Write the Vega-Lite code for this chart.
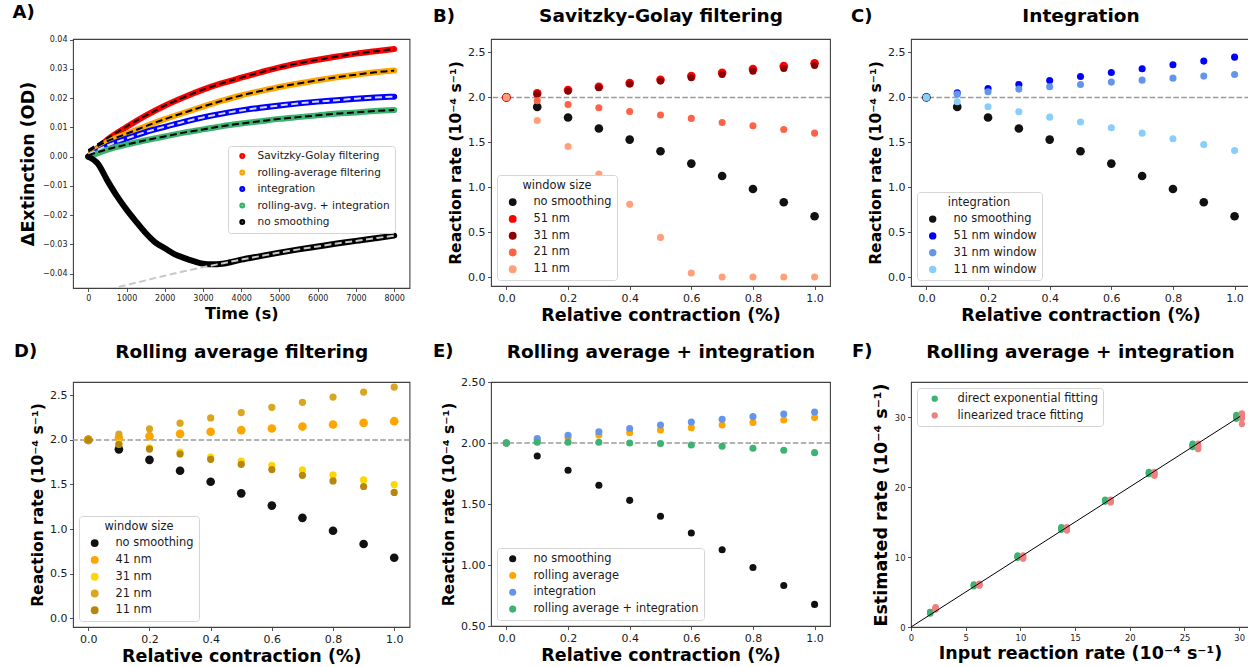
{
"$schema": "https://vega.github.io/schema/vega-lite/v6.json",
"background": "white",
"padding": {"left": 11, "top": 3, "right": 0, "bottom": 0},
"config": {
 "font": "DejaVu Sans",
 "view": {"stroke": "#404040", "strokeWidth": 1.1},
 "axis": {"grid": false, "domain": false, "tickColor": "#404040", "tickSize": 3.5, "tickWidth": 0.9, "labelFont": "DejaVu Sans", "labelFontSize": 11, "labelColor": "#1a1a1a", "labelPadding": 2.5, "labelFlush": false, "labelOverlap": false, "titleFont": "DejaVu Sans", "titleFontSize": 17.5, "titleFontWeight": "bold", "titleColor": "#000"},
 "legend": {"labelFont": "DejaVu Sans", "labelFontSize": 11.4, "labelColor": "#1a1a1a", "labelLimit": 400, "titleFont": "DejaVu Sans", "titleFontSize": 11.4, "titleFontWeight": "normal", "titleColor": "#1a1a1a", "fillColor": "white", "strokeColor": "#d5d5d5", "cornerRadius": 3, "padding": 5, "symbolStrokeWidth": 0, "symbolType": "circle", "rowPadding": 3.8, "labelOffset": 15, "symbolOffset": 5},
 "title": {"font": "DejaVu Sans", "fontSize": 18, "fontWeight": "bold", "color": "#000", "anchor": "start", "frame": "group"}
},
"datasets": {
 "A": [
  {"s":"Savitzky-Golay filtering","t":0,"v":0,"f":0.0022},{"s":"Savitzky-Golay filtering","t":250,"v":0.003},{"s":"Savitzky-Golay filtering","t":500,"v":0.0058,"f":0.0063},{"s":"Savitzky-Golay filtering","t":1000,"v":0.0101,"f":0.0103},{"s":"Savitzky-Golay filtering","t":1500,"v":0.014,"f":0.014},{"s":"Savitzky-Golay filtering","t":2000,"v":0.0174,"f":0.0174},{"s":"Savitzky-Golay filtering","t":2500,"v":0.0203,"f":0.0203},{"s":"Savitzky-Golay filtering","t":3000,"v":0.0229,"f":0.0229},{"s":"Savitzky-Golay filtering","t":3500,"v":0.0251,"f":0.0251},{"s":"Savitzky-Golay filtering","t":4000,"v":0.027,"f":0.027},{"s":"Savitzky-Golay filtering","t":4500,"v":0.0288,"f":0.0288},{"s":"Savitzky-Golay filtering","t":5000,"v":0.0305,"f":0.0305},{"s":"Savitzky-Golay filtering","t":5500,"v":0.0319,"f":0.0319},{"s":"Savitzky-Golay filtering","t":6000,"v":0.0331,"f":0.0331},{"s":"Savitzky-Golay filtering","t":6500,"v":0.0342,"f":0.0342},{"s":"Savitzky-Golay filtering","t":7000,"v":0.0352,"f":0.0352},{"s":"Savitzky-Golay filtering","t":7500,"v":0.036,"f":0.036},{"s":"Savitzky-Golay filtering","t":8000,"v":0.0368,"f":0.0368},
  {"s":"rolling-average filtering","t":0,"v":0,"f":0.0018},{"s":"rolling-average filtering","t":250,"v":0.0027},{"s":"rolling-average filtering","t":500,"v":0.005,"f":0.0053},{"s":"rolling-average filtering","t":1000,"v":0.0078,"f":0.0078},{"s":"rolling-average filtering","t":1500,"v":0.0104,"f":0.0104},{"s":"rolling-average filtering","t":2000,"v":0.0128,"f":0.0128},{"s":"rolling-average filtering","t":2500,"v":0.015,"f":0.015},{"s":"rolling-average filtering","t":3000,"v":0.0171,"f":0.0171},{"s":"rolling-average filtering","t":3500,"v":0.0191,"f":0.0191},{"s":"rolling-average filtering","t":4000,"v":0.0209,"f":0.0209},{"s":"rolling-average filtering","t":4500,"v":0.0224,"f":0.0224},{"s":"rolling-average filtering","t":5000,"v":0.0238,"f":0.0238},{"s":"rolling-average filtering","t":5500,"v":0.025,"f":0.025},{"s":"rolling-average filtering","t":6000,"v":0.0261,"f":0.0261},{"s":"rolling-average filtering","t":6500,"v":0.0271,"f":0.0271},{"s":"rolling-average filtering","t":7000,"v":0.028,"f":0.028},{"s":"rolling-average filtering","t":7500,"v":0.0288,"f":0.0288},{"s":"rolling-average filtering","t":8000,"v":0.0294,"f":0.0294},
  {"s":"integration","t":0,"v":0,"f":0.0008},{"s":"integration","t":250,"v":0.0018},{"s":"integration","t":500,"v":0.0036,"f":0.0038},{"s":"integration","t":1000,"v":0.0062,"f":0.0062},{"s":"integration","t":1500,"v":0.0084,"f":0.0084},{"s":"integration","t":2000,"v":0.0102,"f":0.0102},{"s":"integration","t":2500,"v":0.0119,"f":0.0119},{"s":"integration","t":3000,"v":0.0134,"f":0.0134},{"s":"integration","t":3500,"v":0.0147,"f":0.0147},{"s":"integration","t":4000,"v":0.0158,"f":0.0158},{"s":"integration","t":4500,"v":0.0167,"f":0.0167},{"s":"integration","t":5000,"v":0.0175,"f":0.0175},{"s":"integration","t":5500,"v":0.0182,"f":0.0182},{"s":"integration","t":6000,"v":0.0188,"f":0.0188},{"s":"integration","t":6500,"v":0.0193,"f":0.0193},{"s":"integration","t":7000,"v":0.0198,"f":0.0198},{"s":"integration","t":7500,"v":0.0202,"f":0.0202},{"s":"integration","t":8000,"v":0.0205,"f":0.0205},
  {"s":"rolling-avg. + integration","t":0,"v":0,"f":0.0005},{"s":"rolling-avg. + integration","t":250,"v":0.0012},{"s":"rolling-avg. + integration","t":500,"v":0.0024,"f":0.0025},{"s":"rolling-avg. + integration","t":1000,"v":0.0041,"f":0.0041},{"s":"rolling-avg. + integration","t":1500,"v":0.0056,"f":0.0056},{"s":"rolling-avg. + integration","t":2000,"v":0.0069,"f":0.0069},{"s":"rolling-avg. + integration","t":2500,"v":0.0082,"f":0.0082},{"s":"rolling-avg. + integration","t":3000,"v":0.0093,"f":0.0093},{"s":"rolling-avg. + integration","t":3500,"v":0.0104,"f":0.0104},{"s":"rolling-avg. + integration","t":4000,"v":0.0113,"f":0.0113},{"s":"rolling-avg. + integration","t":4500,"v":0.0121,"f":0.0121},{"s":"rolling-avg. + integration","t":5000,"v":0.0129,"f":0.0129},{"s":"rolling-avg. + integration","t":5500,"v":0.0135,"f":0.0135},{"s":"rolling-avg. + integration","t":6000,"v":0.0141,"f":0.0141},{"s":"rolling-avg. + integration","t":6500,"v":0.0147,"f":0.0147},{"s":"rolling-avg. + integration","t":7000,"v":0.0151,"f":0.0151},{"s":"rolling-avg. + integration","t":7500,"v":0.0156,"f":0.0156},{"s":"rolling-avg. + integration","t":8000,"v":0.0159,"f":0.0159},
  {"s":"no smoothing","t":0,"v":0,"f":-0.0474},{"s":"no smoothing","t":250,"v":-0.0024},{"s":"no smoothing","t":500,"v":-0.0082,"f":-0.0456},{"s":"no smoothing","t":750,"v":-0.0135},{"s":"no smoothing","t":1000,"v":-0.0181,"f":-0.0439},{"s":"no smoothing","t":1250,"v":-0.0222},{"s":"no smoothing","t":1500,"v":-0.0261,"f":-0.0423},{"s":"no smoothing","t":1750,"v":-0.0293},{"s":"no smoothing","t":2000,"v":-0.0313,"f":-0.0407},{"s":"no smoothing","t":2250,"v":-0.0333},{"s":"no smoothing","t":2500,"v":-0.0346,"f":-0.0392},{"s":"no smoothing","t":2750,"v":-0.0357},{"s":"no smoothing","t":3000,"v":-0.0366,"f":-0.0378},{"s":"no smoothing","t":3250,"v":-0.0368},{"s":"no smoothing","t":3500,"v":-0.0366,"f":-0.0365},{"s":"no smoothing","t":4000,"v":-0.0352,"f":-0.0352},{"s":"no smoothing","t":4500,"v":-0.034,"f":-0.034},{"s":"no smoothing","t":5000,"v":-0.0328,"f":-0.0328},{"s":"no smoothing","t":5500,"v":-0.0317,"f":-0.0317},{"s":"no smoothing","t":6000,"v":-0.0307,"f":-0.0307},{"s":"no smoothing","t":6500,"v":-0.0297,"f":-0.0297},{"s":"no smoothing","t":7000,"v":-0.0288,"f":-0.0288},{"s":"no smoothing","t":7500,"v":-0.0279,"f":-0.0279},{"s":"no smoothing","t":8000,"v":-0.027,"f":-0.027}
 ],
 "B": [
  {"s":"no smoothing","x":0,"y":2},{"s":"no smoothing","x":0.1,"y":1.894},{"s":"no smoothing","x":0.2,"y":1.776},{"s":"no smoothing","x":0.3,"y":1.654},{"s":"no smoothing","x":0.4,"y":1.53},{"s":"no smoothing","x":0.5,"y":1.4},{"s":"no smoothing","x":0.6,"y":1.263},{"s":"no smoothing","x":0.7,"y":1.125},{"s":"no smoothing","x":0.8,"y":0.98},{"s":"no smoothing","x":0.9,"y":0.832},{"s":"no smoothing","x":1,"y":0.677},
  {"s":"51 nm","x":0,"y":2},{"s":"51 nm","x":0.1,"y":2.044},{"s":"51 nm","x":0.2,"y":2.081},{"s":"51 nm","x":0.3,"y":2.118},{"s":"51 nm","x":0.4,"y":2.159},{"s":"51 nm","x":0.5,"y":2.196},{"s":"51 nm","x":0.6,"y":2.237},{"s":"51 nm","x":0.7,"y":2.274},{"s":"51 nm","x":0.8,"y":2.315},{"s":"51 nm","x":0.9,"y":2.348},{"s":"51 nm","x":1,"y":2.38},
  {"s":"31 nm","x":0,"y":2},{"s":"31 nm","x":0.1,"y":2.036},{"s":"31 nm","x":0.2,"y":2.07},{"s":"31 nm","x":0.3,"y":2.107},{"s":"31 nm","x":0.4,"y":2.148},{"s":"31 nm","x":0.5,"y":2.181},{"s":"31 nm","x":0.6,"y":2.218},{"s":"31 nm","x":0.7,"y":2.255},{"s":"31 nm","x":0.8,"y":2.292},{"s":"31 nm","x":0.9,"y":2.322},{"s":"31 nm","x":1,"y":2.355},
  {"s":"21 nm","x":0,"y":2},{"s":"21 nm","x":0.1,"y":1.962},{"s":"21 nm","x":0.2,"y":1.921},{"s":"21 nm","x":0.3,"y":1.884},{"s":"21 nm","x":0.4,"y":1.843},{"s":"21 nm","x":0.5,"y":1.803},{"s":"21 nm","x":0.6,"y":1.766},{"s":"21 nm","x":0.7,"y":1.721},{"s":"21 nm","x":0.8,"y":1.684},{"s":"21 nm","x":0.9,"y":1.643},{"s":"21 nm","x":1,"y":1.602},
  {"s":"11 nm","x":0,"y":2},{"s":"11 nm","x":0.1,"y":1.743},{"s":"11 nm","x":0.2,"y":1.454},{"s":"11 nm","x":0.3,"y":1.146},{"s":"11 nm","x":0.4,"y":0.809},{"s":"11 nm","x":0.5,"y":0.441},{"s":"11 nm","x":0.6,"y":0.045},{"s":"11 nm","x":0.7,"y":0},{"s":"11 nm","x":0.8,"y":0},{"s":"11 nm","x":0.9,"y":0},{"s":"11 nm","x":1,"y":0}
 ],
 "C": [
  {"s":"no smoothing","x":0,"y":2},{"s":"no smoothing","x":0.1,"y":1.894},{"s":"no smoothing","x":0.2,"y":1.776},{"s":"no smoothing","x":0.3,"y":1.654},{"s":"no smoothing","x":0.4,"y":1.53},{"s":"no smoothing","x":0.5,"y":1.4},{"s":"no smoothing","x":0.6,"y":1.263},{"s":"no smoothing","x":0.7,"y":1.125},{"s":"no smoothing","x":0.8,"y":0.98},{"s":"no smoothing","x":0.9,"y":0.832},{"s":"no smoothing","x":1,"y":0.677},
  {"s":"51 nm window","x":0,"y":2},{"s":"51 nm window","x":0.1,"y":2.051},{"s":"51 nm window","x":0.2,"y":2.099},{"s":"51 nm window","x":0.3,"y":2.144},{"s":"51 nm window","x":0.4,"y":2.188},{"s":"51 nm window","x":0.5,"y":2.233},{"s":"51 nm window","x":0.6,"y":2.277},{"s":"51 nm window","x":0.7,"y":2.318},{"s":"51 nm window","x":0.8,"y":2.363},{"s":"51 nm window","x":0.9,"y":2.404},{"s":"51 nm window","x":1,"y":2.448},
  {"s":"31 nm window","x":0,"y":2},{"s":"31 nm window","x":0.1,"y":2.036},{"s":"31 nm window","x":0.2,"y":2.062},{"s":"31 nm window","x":0.3,"y":2.092},{"s":"31 nm window","x":0.4,"y":2.118},{"s":"31 nm window","x":0.5,"y":2.144},{"s":"31 nm window","x":0.6,"y":2.17},{"s":"31 nm window","x":0.7,"y":2.192},{"s":"31 nm window","x":0.8,"y":2.214},{"s":"31 nm window","x":0.9,"y":2.237},{"s":"31 nm window","x":1,"y":2.255},
  {"s":"11 nm window","x":0,"y":2},{"s":"11 nm window","x":0.1,"y":1.951},{"s":"11 nm window","x":0.2,"y":1.895},{"s":"11 nm window","x":0.3,"y":1.84},{"s":"11 nm window","x":0.4,"y":1.78},{"s":"11 nm window","x":0.5,"y":1.725},{"s":"11 nm window","x":0.6,"y":1.662},{"s":"11 nm window","x":0.7,"y":1.602},{"s":"11 nm window","x":0.8,"y":1.539},{"s":"11 nm window","x":0.9,"y":1.476},{"s":"11 nm window","x":1,"y":1.409}
 ],
 "D": [
  {"s":"no smoothing","x":0,"y":2},{"s":"no smoothing","x":0.1,"y":1.894},{"s":"no smoothing","x":0.2,"y":1.776},{"s":"no smoothing","x":0.3,"y":1.654},{"s":"no smoothing","x":0.4,"y":1.53},{"s":"no smoothing","x":0.5,"y":1.4},{"s":"no smoothing","x":0.6,"y":1.263},{"s":"no smoothing","x":0.7,"y":1.125},{"s":"no smoothing","x":0.8,"y":0.98},{"s":"no smoothing","x":0.9,"y":0.832},{"s":"no smoothing","x":1,"y":0.677},
  {"s":"41 nm","x":0,"y":2},{"s":"41 nm","x":0.1,"y":2.024},{"s":"41 nm","x":0.2,"y":2.042},{"s":"41 nm","x":0.3,"y":2.068},{"s":"41 nm","x":0.4,"y":2.091},{"s":"41 nm","x":0.5,"y":2.109},{"s":"41 nm","x":0.6,"y":2.128},{"s":"41 nm","x":0.7,"y":2.15},{"s":"41 nm","x":0.8,"y":2.173},{"s":"41 nm","x":0.9,"y":2.191},{"s":"41 nm","x":1,"y":2.21},
  {"s":"31 nm","x":0,"y":2},{"s":"31 nm","x":0.1,"y":1.96},{"s":"31 nm","x":0.2,"y":1.91},{"s":"31 nm","x":0.3,"y":1.864},{"s":"31 nm","x":0.4,"y":1.808},{"s":"31 nm","x":0.5,"y":1.763},{"s":"31 nm","x":0.6,"y":1.715},{"s":"31 nm","x":0.7,"y":1.663},{"s":"31 nm","x":0.8,"y":1.607},{"s":"31 nm","x":0.9,"y":1.551},{"s":"31 nm","x":1,"y":1.499},
  {"s":"21 nm","x":0,"y":2},{"s":"21 nm","x":0.1,"y":2.065},{"s":"21 nm","x":0.2,"y":2.124},{"s":"21 nm","x":0.3,"y":2.188},{"s":"21 nm","x":0.4,"y":2.247},{"s":"21 nm","x":0.5,"y":2.307},{"s":"21 nm","x":0.6,"y":2.366},{"s":"21 nm","x":0.7,"y":2.422},{"s":"21 nm","x":0.8,"y":2.481},{"s":"21 nm","x":0.9,"y":2.537},{"s":"21 nm","x":1,"y":2.593},
  {"s":"11 nm","x":0,"y":2},{"s":"11 nm","x":0.1,"y":1.949},{"s":"11 nm","x":0.2,"y":1.897},{"s":"11 nm","x":0.3,"y":1.842},{"s":"11 nm","x":0.4,"y":1.782},{"s":"11 nm","x":0.5,"y":1.726},{"s":"11 nm","x":0.6,"y":1.667},{"s":"11 nm","x":0.7,"y":1.603},{"s":"11 nm","x":0.8,"y":1.54},{"s":"11 nm","x":0.9,"y":1.477},{"s":"11 nm","x":1,"y":1.41}
 ],
 "E": [
  {"s":"no smoothing","x":0,"y":2},{"s":"no smoothing","x":0.1,"y":1.894},{"s":"no smoothing","x":0.2,"y":1.776},{"s":"no smoothing","x":0.3,"y":1.654},{"s":"no smoothing","x":0.4,"y":1.53},{"s":"no smoothing","x":0.5,"y":1.4},{"s":"no smoothing","x":0.6,"y":1.263},{"s":"no smoothing","x":0.7,"y":1.125},{"s":"no smoothing","x":0.8,"y":0.98},{"s":"no smoothing","x":0.9,"y":0.832},{"s":"no smoothing","x":1,"y":0.677},
  {"s":"rolling average","x":0,"y":2},{"s":"rolling average","x":0.1,"y":2.024},{"s":"rolling average","x":0.2,"y":2.044},{"s":"rolling average","x":0.3,"y":2.066},{"s":"rolling average","x":0.4,"y":2.085},{"s":"rolling average","x":0.5,"y":2.107},{"s":"rolling average","x":0.6,"y":2.126},{"s":"rolling average","x":0.7,"y":2.148},{"s":"rolling average","x":0.8,"y":2.168},{"s":"rolling average","x":0.9,"y":2.188},{"s":"rolling average","x":1,"y":2.208},
  {"s":"integration","x":0,"y":2},{"s":"integration","x":0.1,"y":2.037},{"s":"integration","x":0.2,"y":2.064},{"s":"integration","x":0.3,"y":2.092},{"s":"integration","x":0.4,"y":2.119},{"s":"integration","x":0.5,"y":2.147},{"s":"integration","x":0.6,"y":2.172},{"s":"integration","x":0.7,"y":2.194},{"s":"integration","x":0.8,"y":2.216},{"s":"integration","x":0.9,"y":2.238},{"s":"integration","x":1,"y":2.254},
  {"s":"rolling average + integration","x":0,"y":2},{"s":"rolling average + integration","x":0.1,"y":2.006},{"s":"rolling average + integration","x":0.2,"y":2.006},{"s":"rolling average + integration","x":0.3,"y":2.006},{"s":"rolling average + integration","x":0.4,"y":2},{"s":"rolling average + integration","x":0.5,"y":1.995},{"s":"rolling average + integration","x":0.6,"y":1.984},{"s":"rolling average + integration","x":0.7,"y":1.973},{"s":"rolling average + integration","x":0.8,"y":1.957},{"s":"rolling average + integration","x":0.9,"y":1.94},{"s":"rolling average + integration","x":1,"y":1.921}
 ],
 "F": [
  {"m":"direct exponential fitting","x":1.75,"y":2.15},{"m":"direct exponential fitting","x":1.75,"y":2.08},{"m":"direct exponential fitting","x":1.75,"y":2.02},{"m":"direct exponential fitting","x":1.75,"y":1.97},{"m":"direct exponential fitting","x":1.75,"y":1.92},
  {"m":"direct exponential fitting","x":5.75,"y":6.08},{"m":"direct exponential fitting","x":5.75,"y":6.0},{"m":"direct exponential fitting","x":5.75,"y":5.95},{"m":"direct exponential fitting","x":5.75,"y":5.88},{"m":"direct exponential fitting","x":5.75,"y":5.82},
  {"m":"direct exponential fitting","x":9.75,"y":10.24},{"m":"direct exponential fitting","x":9.75,"y":10.12},{"m":"direct exponential fitting","x":9.75,"y":10.03},{"m":"direct exponential fitting","x":9.75,"y":9.95},{"m":"direct exponential fitting","x":9.75,"y":9.88},
  {"m":"direct exponential fitting","x":13.75,"y":14.25},{"m":"direct exponential fitting","x":13.75,"y":14.12},{"m":"direct exponential fitting","x":13.75,"y":14.02},{"m":"direct exponential fitting","x":13.75,"y":13.95},{"m":"direct exponential fitting","x":13.75,"y":13.88},
  {"m":"direct exponential fitting","x":17.75,"y":18.18},{"m":"direct exponential fitting","x":17.75,"y":18.1},{"m":"direct exponential fitting","x":17.75,"y":18.02},{"m":"direct exponential fitting","x":17.75,"y":17.97},{"m":"direct exponential fitting","x":17.75,"y":17.93},
  {"m":"direct exponential fitting","x":21.75,"y":22.15},{"m":"direct exponential fitting","x":21.75,"y":22.08},{"m":"direct exponential fitting","x":21.75,"y":22.0},{"m":"direct exponential fitting","x":21.75,"y":21.93},{"m":"direct exponential fitting","x":21.75,"y":21.86},
  {"m":"direct exponential fitting","x":25.75,"y":26.2},{"m":"direct exponential fitting","x":25.75,"y":26.05},{"m":"direct exponential fitting","x":25.75,"y":25.95},{"m":"direct exponential fitting","x":25.75,"y":25.82},{"m":"direct exponential fitting","x":25.75,"y":25.7},
  {"m":"direct exponential fitting","x":29.75,"y":30.3},{"m":"direct exponential fitting","x":29.75,"y":30.15},{"m":"direct exponential fitting","x":29.75,"y":30.0},{"m":"direct exponential fitting","x":29.75,"y":29.88},{"m":"direct exponential fitting","x":29.75,"y":29.75},
  {"m":"linearized trace fitting","x":2.25,"y":2.85},{"m":"linearized trace fitting","x":2.25,"y":2.75},{"m":"linearized trace fitting","x":2.25,"y":2.65},{"m":"linearized trace fitting","x":2.25,"y":2.57},{"m":"linearized trace fitting","x":2.25,"y":2.5},
  {"m":"linearized trace fitting","x":6.25,"y":6.2},{"m":"linearized trace fitting","x":6.25,"y":6.12},{"m":"linearized trace fitting","x":6.25,"y":6.05},{"m":"linearized trace fitting","x":6.25,"y":5.98},{"m":"linearized trace fitting","x":6.25,"y":5.9},
  {"m":"linearized trace fitting","x":10.25,"y":10.24},{"m":"linearized trace fitting","x":10.25,"y":10.1},{"m":"linearized trace fitting","x":10.25,"y":10.0},{"m":"linearized trace fitting","x":10.25,"y":9.9},{"m":"linearized trace fitting","x":10.25,"y":9.76},
  {"m":"linearized trace fitting","x":14.25,"y":14.26},{"m":"linearized trace fitting","x":14.25,"y":14.1},{"m":"linearized trace fitting","x":14.25,"y":14.0},{"m":"linearized trace fitting","x":14.25,"y":13.9},{"m":"linearized trace fitting","x":14.25,"y":13.78},
  {"m":"linearized trace fitting","x":18.25,"y":18.18},{"m":"linearized trace fitting","x":18.25,"y":18.05},{"m":"linearized trace fitting","x":18.25,"y":17.95},{"m":"linearized trace fitting","x":18.25,"y":17.88},{"m":"linearized trace fitting","x":18.25,"y":17.8},
  {"m":"linearized trace fitting","x":22.25,"y":22.15},{"m":"linearized trace fitting","x":22.25,"y":22.0},{"m":"linearized trace fitting","x":22.25,"y":21.88},{"m":"linearized trace fitting","x":22.25,"y":21.75},{"m":"linearized trace fitting","x":22.25,"y":21.6},
  {"m":"linearized trace fitting","x":26.25,"y":26.2},{"m":"linearized trace fitting","x":26.25,"y":26.0},{"m":"linearized trace fitting","x":26.25,"y":25.8},{"m":"linearized trace fitting","x":26.25,"y":25.6},{"m":"linearized trace fitting","x":26.25,"y":25.4},
  {"m":"linearized trace fitting","x":30.25,"y":30.5},{"m":"linearized trace fitting","x":30.25,"y":30.3},{"m":"linearized trace fitting","x":30.25,"y":30.05},{"m":"linearized trace fitting","x":30.25,"y":29.8},{"m":"linearized trace fitting","x":30.25,"y":29.0}
 ],
 "Fline": [{"x":0,"y":0},{"x":30.1,"y":30.1}]
},
"concat": [
  {
   "width": 336.5, "height": 249,
   "title": {"text": "A)", "dx": -60.5, "offset": 13.5},
   "data": {"name": "A"},
   "encoding": {
    "x": {"field": "t", "type": "quantitative", "scale": {"domain": [-400, 8400], "nice": false, "zero": false}, "axis": {"values": [0,1000,2000,3000,4000,5000,6000,7000,8000], "format": "d", "labelFontSize": 8, "title": "Time (s)", "titleFontSize": 16, "titlePadding": 3}}
   },
   "layer": [
    {"mark": {"type": "line", "strokeWidth": 6, "interpolate": "monotone", "strokeCap": "round"},
     "encoding": {
      "y": {"field": "v", "type": "quantitative", "scale": {"domain": [-0.0449, 0.0402], "nice": false, "zero": false}, "axis": {"values": [-0.04,-0.03,-0.02,-0.01,0,0.01,0.02,0.03,0.04], "format": ".2f", "labelFontSize": 8, "title": "ΔExtinction (OD)", "titlePadding": 5}},
      "color": {"field": "s", "type": "nominal", "scale": {"domain": ["Savitzky-Golay filtering","rolling-average filtering","integration","rolling-avg. + integration","no smoothing"], "range": ["#ff0000","#ffa500","#0000ff","#3cb371","#000000"]},
       "legend": {"title": null, "orient": "none", "legendX": 155, "legendY": 107, "symbolType": "circle", "symbolSize": 6, "symbolStrokeWidth": 3.5, "labelFontSize": 10.5, "labelOffset": 10, "clipHeight": 10, "rowPadding": 5.5, "symbolOffset": 4, "padding": 5}}
     }},
    {"transform": [{"filter": "isValid(datum.f)"}],
     "mark": {"type": "line", "strokeWidth": 2, "strokeDash": [7, 3.5], "interpolate": "monotone", "clip": true},
     "encoding": {
      "y": {"field": "f", "type": "quantitative", "axis": {"values": [-0.04,-0.03,-0.02,-0.01,0,0.01,0.02,0.03,0.04], "format": ".2f", "labelFontSize": 8, "title": "ΔExtinction (OD)", "titlePadding": 5}},
      "color": {"field": "s", "type": "nominal", "scale": {"domain": ["Savitzky-Golay filtering","rolling-average filtering","integration","rolling-avg. + integration","no smoothing"], "range": ["#000000","#000000","#d8d8e8","#000000","#c8c8c8"]}, "legend": null}
     }}
   ],
   "resolve": {"scale": {"color": "independent"}}
  },
  {
   "width": 339, "height": 247,
   "title": {"text": "B)", "dx": -58, "dy": 19, "offset": 0},
   "layer": [
    {"data": {"values": [{}]}, "mark": {"type": "rule", "color": "#9a9a9a", "strokeDash": [5.5, 2.4], "strokeWidth": 1.5}, "encoding": {"y": {"datum": 2, "type": "quantitative"}}},
    {"data": {"name": "B"}, "transform": [{"filter": {"field": "s", "oneOf": ["no smoothing", "51 nm"]}}],
     "mark": {"type": "circle", "opacity": 1, "size": 75},
     "encoding": {
      "x": {"field": "x", "type": "quantitative", "scale": {"domain": [-0.05, 1.05], "nice": false, "zero": false}, "axis": {"values": [0,0.2,0.4,0.6,0.8,1], "format": ".1f", "title": "Relative contraction (%)", "titlePadding": 3}},
      "y": {"field": "y", "type": "quantitative", "scale": {"domain": [-0.1, 2.65], "nice": false, "zero": false}, "axis": {"values": [0,0.5,1,1.5,2,2.5], "format": ".1f", "title": "Reaction rate (10⁻⁴ s⁻¹)", "titleFontSize": 15.5, "titlePadding": 4}},
      "color": {"field": "s", "type": "nominal", "scale": {"domain": ["no smoothing","51 nm","31 nm","21 nm","11 nm"], "range": ["#111111","#ff0000","#8b0000","#ff6347","#ffa07a"]}, "legend": {"title": "window size", "orient": "bottom-left", "offset": 6, "titleAnchor": "middle", "symbolSize": 62}}
     }},
    {"data": {"name": "B"}, "transform": [{"filter": {"field": "s", "oneOf": ["31 nm", "21 nm", "11 nm"]}}],
     "mark": {"type": "circle", "opacity": 1, "size": 50},
     "encoding": {
      "x": {"field": "x", "type": "quantitative", "axis": null},
      "y": {"field": "y", "type": "quantitative"},
      "color": {"field": "s", "type": "nominal", "legend": {"title": "window size", "orient": "bottom-left", "offset": 6, "titleAnchor": "middle", "symbolSize": 62}}
     }},
    {"data": {"values": [{}]}, "mark": {"type": "rule", "opacity": 0}, "encoding": {"x": {"datum": 0, "type": "quantitative", "axis": {"orient": "top", "title": "Savitzky-Golay filtering", "labels": false, "ticks": false, "domain": false, "titleFontSize": 18.5, "titlePadding": 13.5}}}}
   ],
   "resolve": {"axis": {"x": "independent"}}
  },
  {
   "width": 339, "height": 247,
   "title": {"text": "C)", "dx": -60, "dy": 19, "offset": 0},
   "layer": [
    {"data": {"values": [{}]}, "mark": {"type": "rule", "color": "#9a9a9a", "strokeDash": [5.5, 2.4], "strokeWidth": 1.5}, "encoding": {"y": {"datum": 2, "type": "quantitative"}}},
    {"data": {"name": "C"}, "transform": [{"filter": {"field": "s", "oneOf": ["no smoothing"]}}],
     "mark": {"type": "circle", "opacity": 1, "size": 75},
     "encoding": {
      "x": {"field": "x", "type": "quantitative", "scale": {"domain": [-0.05, 1.05], "nice": false, "zero": false}, "axis": {"values": [0,0.2,0.4,0.6,0.8,1], "format": ".1f", "title": "Relative contraction (%)", "titlePadding": 3}},
      "y": {"field": "y", "type": "quantitative", "scale": {"domain": [-0.1, 2.65], "nice": false, "zero": false}, "axis": {"values": [0,0.5,1,1.5,2,2.5], "format": ".1f", "title": "Reaction rate (10⁻⁴ s⁻¹)", "titleFontSize": 15.5, "titlePadding": 4}},
      "color": {"field": "s", "type": "nominal", "scale": {"domain": ["no smoothing","51 nm window","31 nm window","11 nm window"], "range": ["#111111","#0000ff","#6495ed","#87cefa"]}, "legend": {"title": "integration", "orient": "bottom-left", "offset": 6, "titleAnchor": "middle", "symbolSize": 55}}
     }},
    {"data": {"name": "C"}, "transform": [{"filter": {"field": "s", "oneOf": ["51 nm window", "31 nm window", "11 nm window"]}}],
     "mark": {"type": "circle", "opacity": 1, "size": 50},
     "encoding": {
      "x": {"field": "x", "type": "quantitative", "axis": null},
      "y": {"field": "y", "type": "quantitative"},
      "color": {"field": "s", "type": "nominal", "legend": {"title": "integration", "orient": "bottom-left", "offset": 6, "titleAnchor": "middle", "symbolSize": 55}}
     }},
    {"data": {"values": [{}]}, "mark": {"type": "rule", "opacity": 0}, "encoding": {"x": {"datum": 0, "type": "quantitative", "axis": {"orient": "top", "title": "Integration", "labels": false, "ticks": false, "domain": false, "titleFontSize": 18.5, "titlePadding": 13.5}}}}
   ],
   "resolve": {"axis": {"x": "independent"}}
  },
  {
   "width": 336.5, "height": 245,
   "title": {"text": "D)", "dx": -59, "dy": 19, "offset": 0},
   "layer": [
    {"data": {"values": [{}]}, "mark": {"type": "rule", "color": "#9a9a9a", "strokeDash": [5.5, 2.4], "strokeWidth": 1.5}, "encoding": {"y": {"datum": 2, "type": "quantitative"}}},
    {"data": {"name": "D"}, "transform": [{"filter": {"field": "s", "oneOf": ["no smoothing", "41 nm"]}}],
     "mark": {"type": "circle", "opacity": 1, "size": 75},
     "encoding": {
      "x": {"field": "x", "type": "quantitative", "scale": {"domain": [-0.05, 1.05], "nice": false, "zero": false}, "axis": {"values": [0,0.2,0.4,0.6,0.8,1], "format": ".1f", "title": "Relative contraction (%)", "titlePadding": 3}},
      "y": {"field": "y", "type": "quantitative", "scale": {"domain": [-0.1, 2.65], "nice": false, "zero": false}, "axis": {"values": [0,0.5,1,1.5,2,2.5], "format": ".1f", "title": "Reaction rate (10⁻⁴ s⁻¹)", "titleFontSize": 15.5, "titlePadding": 4}},
      "color": {"field": "s", "type": "nominal", "scale": {"domain": ["no smoothing","41 nm","31 nm","21 nm","11 nm"], "range": ["#111111","#ffa500","#ffd700","#daa520","#b8860b"]}, "legend": {"title": "window size", "orient": "bottom-left", "offset": 6, "titleAnchor": "middle", "symbolSize": 62}}
     }},
    {"data": {"name": "D"}, "transform": [{"filter": {"field": "s", "oneOf": ["31 nm", "21 nm", "11 nm"]}}],
     "mark": {"type": "circle", "opacity": 1, "size": 52},
     "encoding": {
      "x": {"field": "x", "type": "quantitative", "axis": null},
      "y": {"field": "y", "type": "quantitative"},
      "color": {"field": "s", "type": "nominal", "legend": {"title": "window size", "orient": "bottom-left", "offset": 6, "titleAnchor": "middle", "symbolSize": 62}}
     }},
    {"data": {"values": [{}]}, "mark": {"type": "rule", "opacity": 0}, "encoding": {"x": {"datum": 0, "type": "quantitative", "axis": {"orient": "top", "title": "Rolling average filtering", "labels": false, "ticks": false, "domain": false, "titleFontSize": 18.5, "titlePadding": 21}}}}
   ],
   "resolve": {"axis": {"x": "independent"}}
  },
  {
    "width": 339, "height": 244,
    "title": {"text": "E)", "dx": -58, "dy": 19, "offset": 0},
    "layer": [
     {"data": {"values": [{}]}, "mark": {"type": "rule", "color": "#9a9a9a", "strokeDash": [5.5, 2.4], "strokeWidth": 1.5}, "encoding": {"y": {"datum": 2, "type": "quantitative"}}},
     {"data": {"name": "E"},
      "mark": {"type": "circle", "opacity": 1, "size": 50},
      "encoding": {
       "x": {"field": "x", "type": "quantitative", "scale": {"domain": [-0.05, 1.05], "nice": false, "zero": false}, "axis": {"values": [0,0.2,0.4,0.6,0.8,1], "format": ".1f", "title": "Relative contraction (%)", "titlePadding": 3}},
       "y": {"field": "y", "type": "quantitative", "scale": {"domain": [0.5, 2.5], "nice": false, "zero": false}, "axis": {"values": [0.5,0.75,1,1.25,1.5,1.75,2,2.25,2.5], "format": ".2f", "title": "Reaction rate (10⁻⁴ s⁻¹)", "titleFontSize": 15.5, "titlePadding": 4}},
       "color": {"field": "s", "type": "nominal", "scale": {"domain": ["no smoothing","rolling average","integration","rolling average + integration"], "range": ["#111111","#ffa500","#6495ed","#3cb371"]}, "legend": {"title": null, "orient": "bottom-left", "offset": 6, "symbolSize": 50}}
      }},
     {"data": {"values": [{}]}, "mark": {"type": "rule", "opacity": 0}, "encoding": {"x": {"datum": 0, "type": "quantitative", "axis": {"orient": "top", "title": "Rolling average + integration", "labels": false, "ticks": false, "domain": false, "titleFontSize": 18.5, "titlePadding": 21}}}}
    ],
    "resolve": {"axis": {"x": "independent"}}
  },
  {
    "width": 338, "height": 245,
    "title": {"text": "F)", "dx": -59, "dy": 19, "offset": 0},
    "layer": [
     {"data": {"name": "F"},
      "mark": {"type": "circle", "opacity": 1, "size": 40},
      "encoding": {
       "x": {"field": "x", "type": "quantitative", "scale": {"domain": [0, 30.9], "nice": false, "zero": false}, "axis": {"values": [0,5,10,15,20,25,30], "format": "d", "labelFontSize": 8.4, "title": "Input reaction rate (10⁻⁴ s⁻¹)", "titlePadding": 3}},
       "y": {"field": "y", "type": "quantitative", "scale": {"domain": [0, 35], "nice": false, "zero": false}, "axis": {"values": [0,5,10,15,20,25,30,35], "format": "d", "labelFontSize": 8.4, "title": "Estimated rate (10⁻⁴ s⁻¹)", "titlePadding": 4}},
       "color": {"field": "m", "type": "nominal", "scale": {"domain": ["direct exponential fitting","linearized trace fitting"], "range": ["#3cb371","#f08080"]}, "legend": {"title": null, "orient": "top-left", "offset": 6, "symbolSize": 40, "labelOffset": 17, "symbolOffset": 7}}
      }},
     {"data": {"name": "Fline"}, "mark": {"type": "line", "color": "#000000", "strokeWidth": 1},
      "encoding": {"x": {"field": "x", "type": "quantitative", "axis": null}, "y": {"field": "y", "type": "quantitative"}}},
     {"data": {"values": [{}]}, "mark": {"type": "rule", "opacity": 0}, "encoding": {"x": {"datum": 0, "type": "quantitative", "axis": {"orient": "top", "title": "Rolling average + integration", "labels": false, "ticks": false, "domain": false, "titleFontSize": 18.5, "titlePadding": 21}}}}
    ],
    "resolve": {"axis": {"x": "independent"}}
  }
],
"columns": 3,
"spacing": {"row": 94, "column": 81},
"bounds": "flush",
"resolve": {"scale": {"color": "independent"}, "legend": {"color": "independent"}}
}
